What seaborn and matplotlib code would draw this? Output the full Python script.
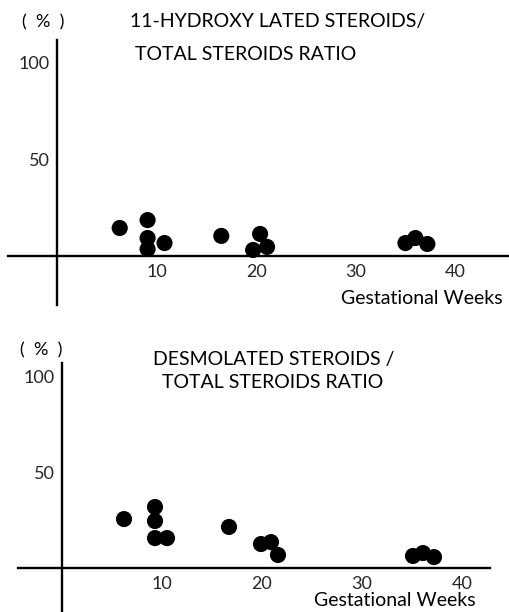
import matplotlib
matplotlib.use("Agg")
import matplotlib.pyplot as plt
import seaborn as sns
import pandas as pd

# 11-hydroxylated / total steroids ratio (%)
hyd_weeks = [6.3, 9.1, 9.1, 9.1, 10.8, 16.5, 20.4, 19.7, 21.1, 35.0, 36.0, 37.2]
hyd_ratio = [14.5, 18.6, 9.3, 3.6, 6.7, 10.4, 11.4, 3.1, 4.7, 6.7, 9.3, 6.2]

# desmolated / total steroids ratio (%)
des_weeks = [6.2, 9.3, 9.3, 9.3, 10.5, 16.7, 19.9, 20.9, 21.6, 35.1, 36.1, 37.2]
des_ratio = [25.5, 31.8, 24.5, 15.6, 15.6, 21.4, 12.5, 13.5, 6.8, 6.3, 7.8, 5.7]

x_ticks = [10, 20, 30, 40]
y_ticks = [50, 100]

sns.set_style("white")
plt.rcParams["font.family"] = ["Lato", "DejaVu Sans"]

W, H = 510, 612
fig = plt.figure(figsize=(W / 100, H / 100), dpi=100)


def px_axes(left, top, right, bottom):
    return fig.add_axes([left / W, 1 - bottom / H, (right - left) / W, (bottom - top) / H])


def style_axes(ax, xlim, ylim):
    ax.set_xlim(*xlim)
    ax.set_ylim(*ylim)
    for s in ("top", "right"):
        ax.spines[s].set_visible(False)
    for s in ("left", "bottom"):
        ax.spines[s].set_position(("data", 0))
        ax.spines[s].set_linewidth(1.7)
        ax.spines[s].set_color("black")
    ax.set_xticks(x_ticks)
    ax.set_yticks(y_ticks)
    ax.tick_params(axis="x", length=3, width=1, pad=6, labelsize=13, direction="in")
    ax.tick_params(axis="y", length=3, width=1, pad=2, labelsize=13, direction="out")
    ax.set_xlabel("")
    ax.set_ylabel("")
    ax.patch.set_alpha(0)


# top panel
ax1 = px_axes(8, 40, 510, 305)
df1 = pd.DataFrame({"week": hyd_weeks, "ratio": hyd_ratio})
sns.scatterplot(data=df1, x="week", y="ratio", ax=ax1, color="black", s=135,
                edgecolor="none", clip_on=False)
style_axes(ax1, (-4.92, 45.5), (-25.4, 111.9))

# bottom panel
ax2 = px_axes(18, 363, 490, 612)
df2 = pd.DataFrame({"week": des_weeks, "ratio": des_ratio})
sns.scatterplot(data=df2, x="week", y="ratio", ax=ax2, color="black", s=135,
                edgecolor="none", clip_on=False)
style_axes(ax2, (-4.4, 42.8), (-22.9, 106.8))


def ftext(x, y, s, size, ha="left"):
    fig.text(x / W, 1 - y / H, s, fontsize=size, ha=ha, va="center", color="black")


ftext(22, 22, "(  %  )", 13)
ftext(130, 22, "11-HYDROXY LATED STEROIDS/", 14)
ftext(135, 55, "TOTAL STEROIDS RATIO", 14)
ftext(503, 298, "Gestational Weeks", 14, ha="right")

ftext(20, 350, "(  %  )", 13)
ftext(153, 359, "DESMOLATED STEROIDS /", 14)
ftext(162, 383, "TOTAL STEROIDS RATIO", 14)
ftext(476, 601, "Gestational Weeks", 14, ha="right")

fig.savefig("out.png", dpi=100)
